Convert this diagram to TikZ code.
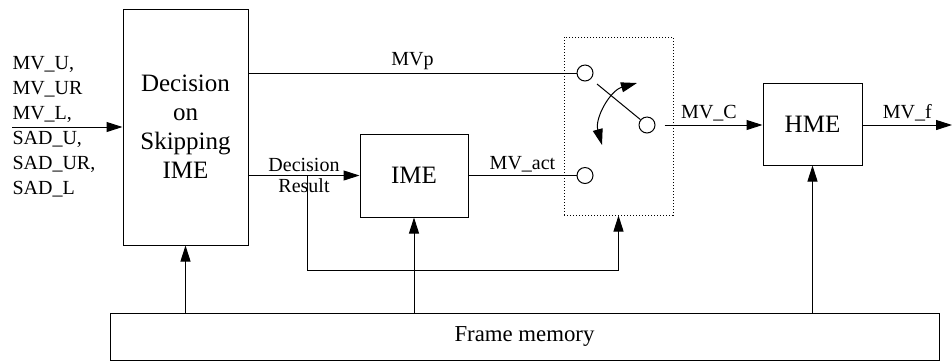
\documentclass[tikz,border=0pt]{standalone}
\usepackage{fontspec}
\setmainfont{Liberation Serif}
\usetikzlibrary{arrows.meta, positioning, calc}

\begin{document}
\begin{tikzpicture}[x=0.5pt, y=-0.5pt, >={Triangle[length=8pt,width=5pt]}, line width=0.5pt,
    blk/.style={draw, inner sep=0pt, align=center, font=\fontsize{12.5}{14.5}\selectfont},
    lbl/.style={font=\fontsize{10}{12.5}\selectfont, inner sep=1.5pt},
    port/.style={draw, circle, minimum size=8pt, inner sep=0pt}]
  \useasboundingbox (0,0) rectangle (952,361);
  % blocks
  \node[blk, minimum width=62.5pt, minimum height=118pt] (dec) at (185.5,127) {Decision\\on\\Skipping\\IME};
  \node[blk, minimum width=54pt, minimum height=41.5pt] (ime) at (414,175.5) {IME};
  \node[blk, minimum width=49.5pt, minimum height=41pt] (hme) at (812.5,124) {HME};
  \node[blk, minimum width=414.5pt, minimum height=23.5pt, font=\fontsize{11.4}{13}\selectfont] (fm) at (524.5,336.5) {\raisebox{-1.5pt}{Frame memory}};
  % switch
  \node[draw, densely dotted, minimum width=54.5pt, minimum height=89pt] (sw) at (618.5,126) {};
  \node[port] (sa) at (585,73) {};
  \node[port] (sb) at (585,175.5) {};
  \node[port] (sc) at (647,125) {};
  \coordinate (lv) at (597,84);
  \draw (lv) -- (sc);
  \coordinate (ca) at (602,145);
  \coordinate (cb) at (637,83);
  \draw[<->] (ca) to[bend left=45] (cb);
  % inputs
  \coordinate (in) at (12,127);
  \node[lbl, anchor=west, align=left, inner sep=0pt] (inlbl) at (12,126.5) {MV\_U,\\MV\_UR\\MV\_L,\\SAD\_U,\\SAD\_UR,\\SAD\_L};
  \draw[->] (in) -- (dec);
  % connections
  \draw (dec.east |- sa) -- node[lbl, above] {MVp} (sa);
  \draw[->] (dec.east |- ime) -- node[lbl, above] {Decision} node[lbl, below] {Result} (ime);
  \coordinate (br) at (307,175.5);
  \coordinate (fb) at (307,270);
  \draw[->] (br) -- (fb) -| (sw.south);
  \draw (ime) -- node[lbl, above] {MV\_act} (sb);
  \draw[->, shorten <=4.5pt] (sc) -- node[lbl, above] {MV\_C} (hme.west |- sc);
  \coordinate (out) at (952,125);
  \draw[->] (hme.east |- out) -- node[lbl, above] {MV\_f} (out);
  % frame memory feeds
  \draw[->] (fm.north -| dec) -- (dec);
  \draw[->] (fm.north -| ime) -- (ime);
  \draw[->] (fm.north -| hme) -- (hme);
\end{tikzpicture}
\end{document}
